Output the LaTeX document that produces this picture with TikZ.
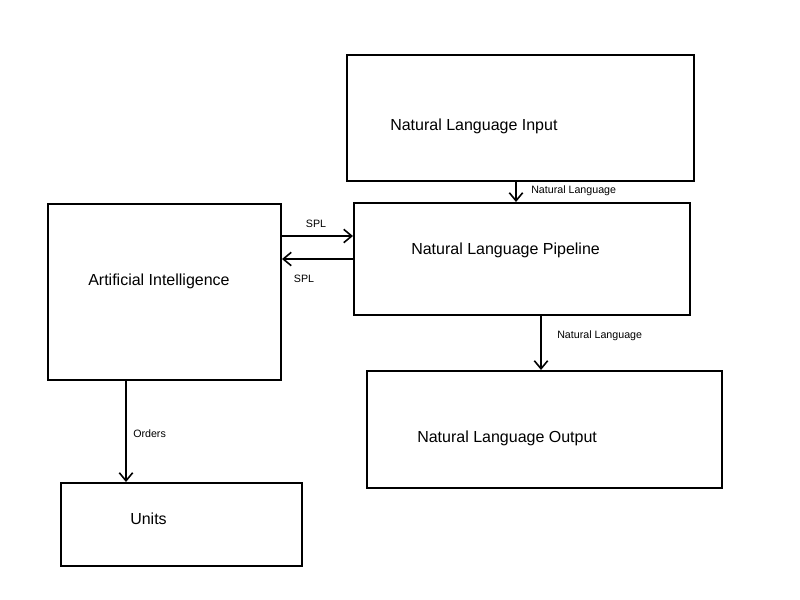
\documentclass[tikz,border=0pt]{standalone}
\usepackage{fontspec}
\setmainfont{Liberation Sans}
\usetikzlibrary{arrows.meta}

\tikzset{
    box/.style={draw, line width=1.5pt, inner sep=0pt},
    flow/.style={line width=1.5pt, -{Straight Barb[length=6pt,width=10pt,line width=1.2pt]}},
    boxtext/.style={anchor=west, inner sep=0pt, font=\fontsize{12}{14}\selectfont},
    flowtext/.style={inner sep=0pt, font=\fontsize{8}{10}\selectfont}
}

\begin{document}
\begin{tikzpicture}[x=0.75pt, y=-0.75pt]
    \useasboundingbox (0,0) rectangle (800,600);

% boxes
    \node[box, minimum width=347*0.75pt, minimum height=126*0.75pt] (nli) at (520.5,118) {};
    \node[box, minimum width=336*0.75pt, minimum height=112*0.75pt] (nlp) at (522,259) {};
    \node[box, minimum width=233*0.75pt, minimum height=176*0.75pt] (ai) at (164.5,292) {};
    \node[box, minimum width=355*0.75pt, minimum height=117*0.75pt] (nlo) at (544.5,429.5) {};
    \node[box, minimum width=241*0.75pt, minimum height=83*0.75pt] (units) at (181.5,524.5) {};

    \node[boxtext] (nlitext) at (390,126) {Natural Language Input};
    \node[boxtext] (nlptext) at (411,250) {Natural Language Pipeline};
    \node[boxtext] (aitext) at (88,281) {Artificial Intelligence};
    \node[boxtext] (nlotext) at (417,438) {Natural Language Output};
    \node[boxtext] (unitstext) at (130,519) {Units};

% arrow levels
    \coordinate (in) at (516,0);
    \coordinate (out) at (541,0);
    \coordinate (ord) at (126,0);
    \coordinate (spltop) at (0,236);
    \coordinate (splbot) at (0,259);

% connectors
    \draw[flow] (nli.south -| in) -- (nlp.north -| in);
    \draw[flow] (nlp.south -| out) -- (nlo.north -| out);
    \draw[flow] (ai.south -| ord) -- (units.north -| ord);
    \draw[flow] (ai.east |- spltop) -- (nlp.west |- spltop);
    \draw[flow] (nlp.west |- splbot) -- (ai.east |- splbot);

    \node[flowtext, anchor=west] (lblin) at (531,191) {Natural Language};
    \node[flowtext, anchor=west] (lblout) at (557,336) {Natural Language};
    \node[flowtext, anchor=west] (lblord) at (133,434) {Orders};
    \node[flowtext] (lbltop) at (316,224) {SPL};
    \node[flowtext] (lblbot) at (304,279) {SPL};

\end{tikzpicture}
\end{document}
